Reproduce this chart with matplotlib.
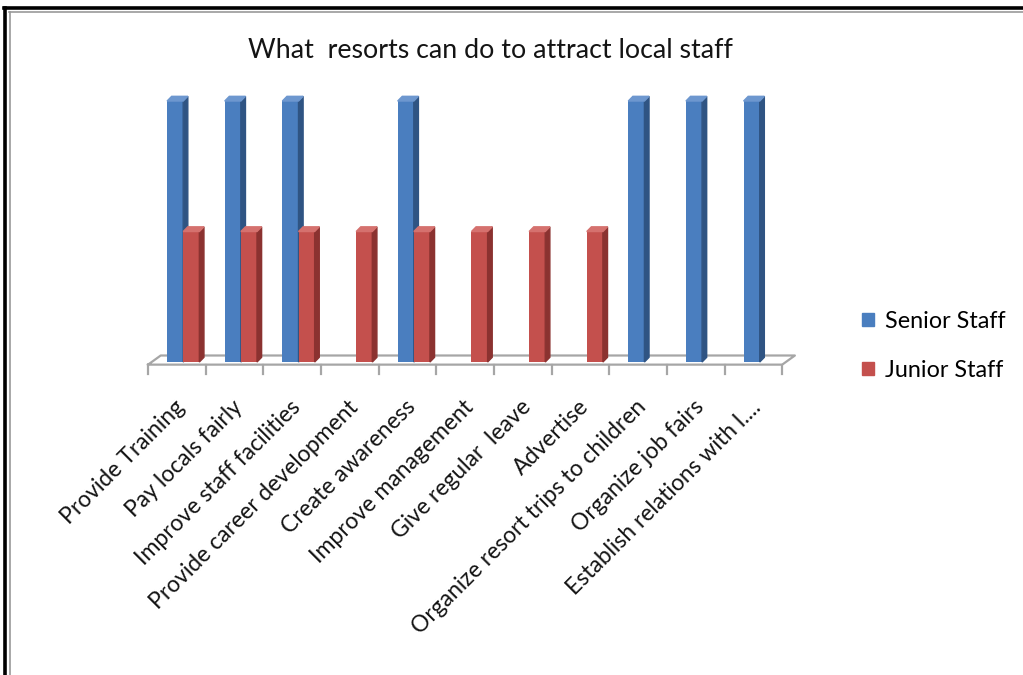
import numpy as np
import matplotlib
matplotlib.use('Agg')
import matplotlib.pyplot as plt
from matplotlib.patches import Polygon, Patch
from matplotlib.lines import Line2D

plt.rcParams['font.family'] = ['Lato', 'DejaVu Sans']

title = 'What  resorts can do to attract local staff'
categories = ['Provide Training', 'Pay locals fairly', 'Improve staff facilities',
              'Provide career development', 'Create awareness', 'Improve management',
              'Give regular  leave', 'Advertise', 'Organize resort trips to children',
              'Organize job fairs', 'Establish relations with l....']
series_names = ['Senior Staff', 'Junior Staff']
senior = [2, 2, 2, 0, 2, 0, 0, 0, 2, 2, 2]
junior = [1, 1, 1, 1, 1, 1, 1, 1, 0, 0, 0]

# front / side / top shades for the fake 3d columns
styles = {
    'Senior Staff': dict(off=-0.03, front='#4a7ebf', side='#2f5483', top='#6d97cf'),
    'Junior Staff': dict(off=0.25, front='#c4504d', side='#8b3230', top='#d5716e'),
}
bar_w = 0.28
ddx, ddy = 0.08, 0.036          # column depth
fdx, fdy = 0.22, 0.07           # floor depth
floor_y = -0.02

fig = plt.figure(figsize=(10.23, 6.75), dpi=100)
ax = fig.add_axes([0.1278, 0.425, 0.665, 0.464])
ax.set_xlim(-0.8, 11.0)
ax.set_ylim(-0.2, 2.2)
ax.axis('off')

n = len(categories)
x = np.arange(n)

# floor outline and ticks
fc = '#a6a6a6'
x0, x1 = -0.5, n - 0.5
ax.plot([x0, x1, x1 + fdx, x0 + fdx, x0],
        [floor_y, floor_y, floor_y + fdy, floor_y + fdy, floor_y],
        color=fc, lw=1.6, zorder=1, clip_on=False)
for t in np.arange(n + 1) - 0.5:
    ax.plot([t, t], [floor_y, floor_y - 0.075], color=fc, lw=1.6, zorder=1,
            clip_on=False)

z = 2
for name, vals in zip(series_names, [senior, junior]):
    s = styles[name]
    for xi, h in zip(x, vals):
        if h == 0:
            continue
        l = xi + s['off'] - bar_w / 2
        r = l + bar_w
        ax.bar(l, h, bar_w, align='edge', color=s['front'], zorder=z)
        ax.add_patch(Polygon([(r, 0), (r + ddx, ddy), (r + ddx, h + ddy), (r, h)],
                             closed=True, color=s['side'], zorder=z))
        ax.add_patch(Polygon([(l, h), (r, h), (r + ddx, h + ddy), (l + ddx, h + ddy)],
                             closed=True, color=s['top'], zorder=z))
    z += 1

for xi, lbl in zip(x, categories):
    ax.text(xi + 0.08, -0.32, lbl, rotation=45, rotation_mode='anchor',
            ha='right', va='center', fontsize=16.5, color='#141414', clip_on=False)

fig.text(0.479, 1 - 51 / 675, title, ha='center', va='center', fontsize=19.3,
         color='#141414')

handles = [Patch(color=styles[nm]['front']) for nm in series_names]
fig.legend(handles, series_names, loc='center left', bbox_to_anchor=(0.822, 0.488),
           frameon=False, fontsize=16.8, handlelength=0.5, handleheight=0.5,
           handletextpad=0.5, labelspacing=1.2)

# double rule along the top and left edges
fig.add_artist(Line2D([0.004, 1.0], [1 - 8 / 675, 1 - 8 / 675], color='black', lw=2.6))
fig.add_artist(Line2D([0.005, 0.005], [0, 1 - 8 / 675], color='black', lw=2.6))
fig.add_artist(Line2D([0.009, 1.0], [1 - 12 / 675, 1 - 12 / 675], color='#9a9a9a', lw=1.2))
fig.add_artist(Line2D([0.0095, 0.0095], [0, 1 - 12 / 675], color='#9a9a9a', lw=1.2))

fig.savefig('out.png', dpi=100)
